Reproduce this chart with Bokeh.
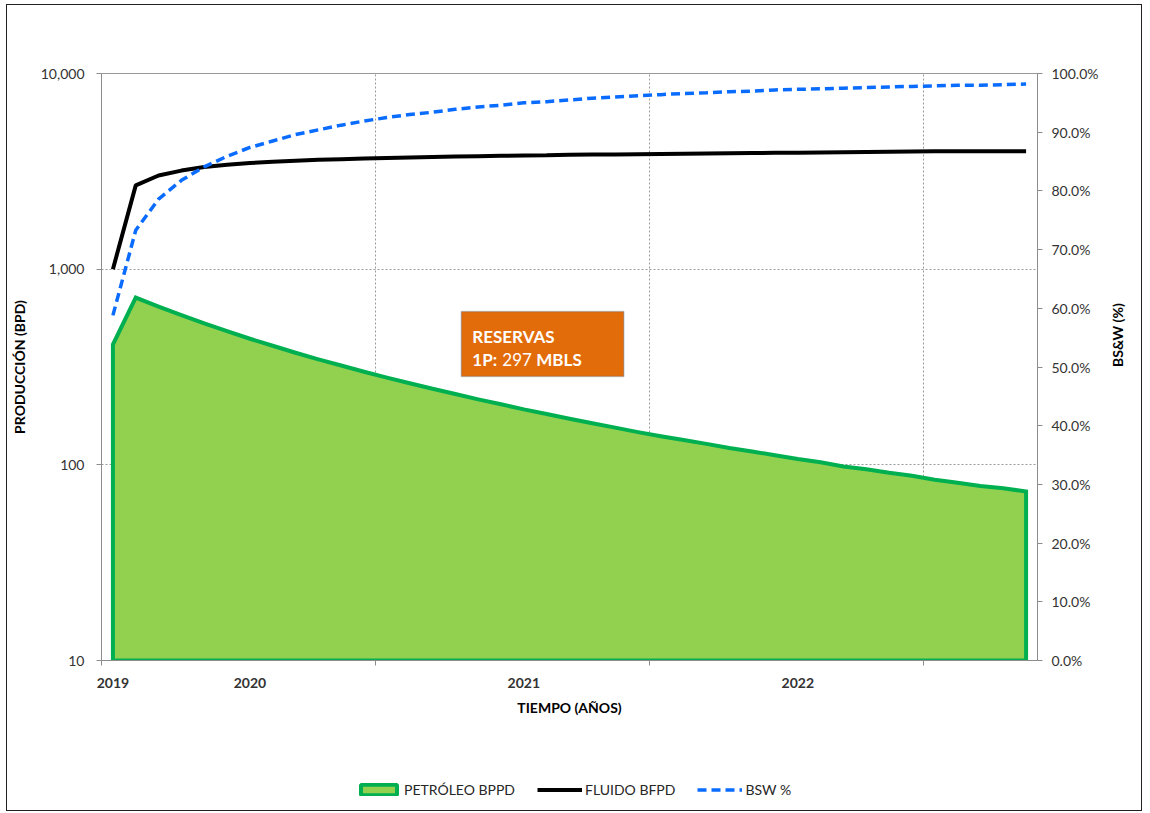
import math
from bokeh.plotting import figure
from bokeh.layouts import column
from bokeh.models import (Range1d, LinearAxis, LinearScale, FixedTicker, NumeralTickFormatter,
                          Legend, LegendItem, BoxAnnotation, Label, Span)
from bokeh.embed import file_html
from bokeh.resources import INLINE

# ---- data (monthly, starting 2019) ----
MONTHS = list(range(41))
OIL_BPPD = [412, 716, 644, 582, 528, 482, 441, 406, 374, 346, 322, 299, 279, 261, 245, 230,
            216, 204, 192, 182, 172, 163, 155, 147, 140, 134, 128, 122, 117, 112, 107, 103,
            98, 95, 91, 88, 84, 81, 78, 76, 73]
FLUID_BFPD = [1000, 2680, 3010, 3190, 3330, 3420, 3490, 3540, 3580, 3620, 3650, 3680, 3700,
              3720, 3740, 3760, 3780, 3800, 3810, 3820, 3840, 3850, 3860, 3870, 3880, 3890,
              3900, 3910, 3920, 3930, 3940, 3950, 3960, 3970, 3980, 3990, 4000, 4000, 4000,
              4010, 4010]
BSW = [0.588, 0.733, 0.786, 0.818, 0.841, 0.859, 0.874, 0.885, 0.896, 0.904, 0.912, 0.919,
       0.925, 0.930, 0.934, 0.939, 0.943, 0.946, 0.950, 0.952, 0.955, 0.958, 0.960, 0.962,
       0.964, 0.966, 0.967, 0.969, 0.970, 0.972, 0.973, 0.974, 0.975, 0.976, 0.977, 0.978,
       0.979, 0.980, 0.980, 0.981, 0.982]
YEAR_LABEL_POS = [0, 6, 18, 30]
YEAR_LABELS = ["2019", "2020", "2021", "2022"]
YEAR_BOUNDARIES = [-0.5, 11.5, 23.5, 35.5]
Y_MIN, Y_MAX = 10, 10000
Y_TICKS = [10, 100, 1000, 10000]
BSW_TICKS = [0.0, 0.1, 0.2, 0.3, 0.4, 0.5, 0.6, 0.7, 0.8, 0.9, 1.0]
SERIES_NAMES = ["PETRÓLEO BPPD", "FLUIDO BFPD", "BSW %"]
RESERVES_TEXT = ("RESERVAS", "1P:", "297", "MBLS")

FONT = "Lato"
TXT = "#333333"
AXC = "#8c8c8c"
OIL_FILL, OIL_LINE = "#92D050", "#00B050"
BSW_COLOR = "#0A6CFF"
W = 1134

p = figure(width=W, height=725,
           x_range=Range1d(MONTHS[0] - 0.5, MONTHS[-1] + 0.5),
           y_range=Range1d(Y_MIN, Y_MAX), y_axis_type="log",
           output_backend="svg", toolbar_location=None,
           min_border_left=92, min_border_right=104, min_border_top=68, min_border_bottom=70)
p.extra_y_ranges = {"bsw": Range1d(0, 1)}
p.extra_y_scales = {"bsw": LinearScale()}
p.outline_line_color = None

# grids
p.xgrid.ticker = FixedTicker(ticks=YEAR_BOUNDARIES[1:])
p.ygrid.ticker = FixedTicker(ticks=Y_TICKS[1:-1])
for g in (p.xgrid, p.ygrid):
    g.grid_line_color = "#9a9a9a"
    g.grid_line_dash = "2 2"
    g.grid_line_width = 1

# left axis
ya = p.yaxis[0]
ya.ticker = FixedTicker(ticks=Y_TICKS, minor_ticks=[])
ya.formatter = NumeralTickFormatter(format="0,0")
ya.axis_label = "PRODUCCIÓN (BPD)"
# bottom axis
xa = p.xaxis[0]
xa.ticker = FixedTicker(ticks=YEAR_LABEL_POS, minor_ticks=YEAR_BOUNDARIES)
xa.major_label_overrides = {pos: lab for pos, lab in zip(YEAR_LABEL_POS, YEAR_LABELS)}
xa.axis_label = "TIEMPO (AÑOS)"
xa.major_tick_line_color = None
xa.major_tick_out = 4
xa.minor_tick_out = 5
xa.minor_tick_in = 0
xa.minor_tick_line_color = AXC
xa.major_label_text_font_style = "bold"
# right axis
ra = LinearAxis(y_range_name="bsw", axis_label="BS&W (%)")
ra.ticker = FixedTicker(ticks=BSW_TICKS, minor_ticks=[])
ra.formatter = NumeralTickFormatter(format="0.0%")
ra.axis_label_orientation = math.pi / 2
p.add_layout(ra, "right")

for ax in (ya, xa, ra):
    ax.axis_line_color = AXC
    ax.major_label_text_font = FONT
    ax.major_label_text_font_size = "14px"
    ax.major_label_text_color = TXT
    ax.axis_label_text_font = FONT
    ax.axis_label_text_font_size = "14px"
    ax.axis_label_text_font_style = "bold"
    ax.axis_label_text_color = "black"
for ax in (ya, ra):
    ax.major_tick_line_color = AXC
    ax.major_tick_out = 5
    ax.major_tick_in = 0
    ax.minor_tick_line_color = None
ya.major_label_standoff = 12
ya.axis_label_standoff = 10
ra.major_label_standoff = 9
ra.axis_label_standoff = 16
xa.major_label_standoff = 12
xa.axis_label_standoff = 8

# top border of the plot area
p.add_layout(Span(location=Y_MAX, dimension="width", line_color="#333333", line_width=1.2))

# series
poly_x = [MONTHS[0]] + MONTHS + [MONTHS[-1]]
poly_y = [Y_MIN] + OIL_BPPD + [Y_MIN]
p.patch(poly_x, poly_y, fill_color=OIL_FILL, line_color=OIL_LINE, line_width=4,
        line_join="miter")
p.line(MONTHS, FLUID_BFPD, line_color="black", line_width=4)
p.line(MONTHS, BSW, y_range_name="bsw", line_color=BSW_COLOR, line_width=3.5,
       line_dash="9 5")

# reserves box (annotation)
box_l, box_r, box_t, box_b = 15.26, 22.38, 607, 283
p.add_layout(BoxAnnotation(left=box_l, right=box_r, top=box_t, bottom=box_b,
                           fill_color="#E36C0A", fill_alpha=1, line_color="#41719C",
                           line_width=1.5, level="overlay"))
def lab(text, dx, dy, style):
    p.add_layout(Label(x=box_l, y=box_t, x_offset=dx, y_offset=dy, text=text,
                       text_font=FONT, text_font_size="17px", text_font_style=style,
                       text_color="white", text_baseline="alphabetic", level="overlay"))
lab(RESERVES_TEXT[0], 11, -25, "bold")
lab(RESERVES_TEXT[1], 11, -48, "bold")
lab(RESERVES_TEXT[2], 41, -48, "normal")
lab(RESERVES_TEXT[3], 75, -48, "bold")

# legend strip (separate figure below; swatch renderers sit outside its visible range)
lf = figure(width=W, height=80, x_range=Range1d(0, 1), y_range=Range1d(0, 1),
            output_backend="svg", toolbar_location=None, min_border=0)
lf.axis.visible = False
lf.grid.visible = False
lf.outline_line_color = None
off = [-5, -4]
r_oil = lf.patch(off, off, fill_color=OIL_FILL, line_color=OIL_LINE, line_width=4)
r_fl = lf.line(off, off, line_color="black", line_width=4)
r_bsw = lf.line(off, off, line_color=BSW_COLOR, line_width=3.5, line_dash="9 5")
legend = Legend(items=[LegendItem(label=SERIES_NAMES[0], renderers=[r_oil]),
                       LegendItem(label=SERIES_NAMES[1], renderers=[r_fl]),
                       LegendItem(label=SERIES_NAMES[2], renderers=[r_bsw])],
                orientation="horizontal", location=(255, 12),
                glyph_width=45, glyph_height=13, spacing=22, label_standoff=3,
                padding=0, margin=0, border_line_color=None, background_fill_alpha=0,
                label_text_font=FONT, label_text_font_size="14px", label_text_color="#262626")
lf.add_layout(legend)

layout = column(p, lf, spacing=0,
                styles={"border": "1.5px solid #222222", "margin-left": "6px",
                        "margin-top": "4px"})
open("out.html", "w").write(file_html(layout, INLINE))
